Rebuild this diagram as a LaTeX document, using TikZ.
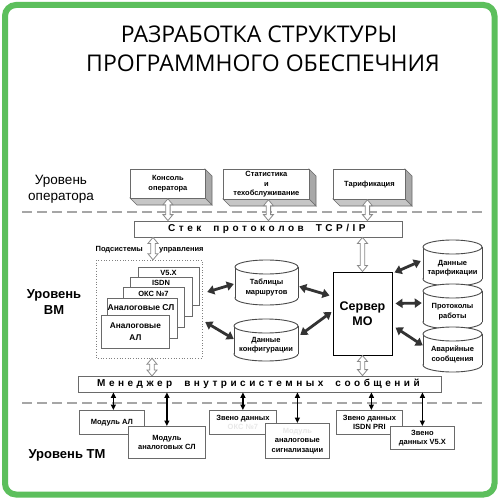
\documentclass[tikz,border=0pt]{standalone}
\usepackage{fontspec}
\setmainfont{Liberation Sans}
\newfontfamily\titlefont{Open Sans}
\usetikzlibrary{arrows.meta,calc}

\makeatletter
\newcommand\lspword[2][3pt]{\@tfor\lsp@c:=#2\do{\lsp@c\kern#1}\unkern}
\makeatother

\definecolor{framegreen}{HTML}{5CBF5C}
\definecolor{dashgray}{HTML}{A6A6A6}
\definecolor{boxgray}{HTML}{6A6A6A}
\definecolor{heavygray}{HTML}{333333}
\definecolor{sidegrayA}{HTML}{A8A8A8}
\definecolor{sidegrayB}{HTML}{C6C6C6}
\definecolor{cylgray}{HTML}{4A4A4A}
\definecolor{hollowgray}{HTML}{8A8A8A}
\definecolor{fadedgray}{HTML}{E8E8E8}

\tikzset{
  lvl/.style={font=\fontsize{13.5}{16}\selectfont, align=center},
  lvlb/.style={font=\bfseries\fontsize{13}{15.5}\selectfont, align=center},
  sm/.style={font=\bfseries\fontsize{7.5}{9.5}\selectfont, align=center},
  boxst/.style={draw=boxgray, fill=white, line width=0.8pt},
  cylst/.style={draw=cylgray, fill=white, line width=0.9pt},
  heavyarr/.style={draw=heavygray, line width=2.8pt, {Triangle[width=9pt,length=7pt]}-{Triangle[width=9pt,length=7pt]}},
  blkarr/.style={draw=black, line width=1.2pt, {Triangle[width=5pt,length=5.5pt]}-{Triangle[width=5pt,length=5.5pt]}},
  hollowst/.style={draw=hollowgray, fill=white, line width=0.8pt},
  dashst/.style={draw=dashgray, line width=1.8pt, dash pattern=on 10pt off 5pt},
  spaced/.style={font=\bfseries\fontsize{10}{12}\selectfont, anchor=west},
}

% 3D box: name, x, y, w, h, text
\newcommand\threebox[6]{%
  \filldraw[fill=sidegrayA, draw=boxgray, line width=0.6pt] (#2+#4,#3) -- ++(7,7) -- ++(0,#5) -- ++(-7,-7) -- cycle;
  \filldraw[fill=sidegrayB, draw=boxgray, line width=0.6pt] (#2,#3+#5) -- ++(#4,0) -- ++(7,7) -- ++(-#4,0) -- cycle;
  \node[boxst, sm, anchor=north west, minimum width=#4pt, minimum height=#5pt] (#1) at (#2,#3) {#6};
}
% plain box: name, x, y, w, h, text
\newcommand\plainbox[6]{%
  \node[boxst, sm, anchor=north west, minimum width=#4pt, minimum height=#5pt] (#1) at (#2,#3) {#6};
}
% cylinder: name, left, top, right, bottom, text
\newcommand\cyl[6]{%
  \filldraw[cylst] ({(#2+#4)/2},{#5-7}) ellipse [x radius={(#4-#2)/2}, y radius=7];
  \fill[white] (#2,#3+7) rectangle (#4,#5-7);
  \draw[cylst] (#2,#3+7) -- (#2,#5-7) (#4,#3+7) -- (#4,#5-7);
  \filldraw[cylst] ({(#2+#4)/2},{#3+7}) ellipse [x radius={(#4-#2)/2}, y radius=7];
  \node[minimum width={(#4-#2)*1pt}, minimum height={(#5-#3)*1pt}] (#1) at ({(#2+#4)/2},{(#3+#5)/2}) {};
  \node[sm] (#1t) at ({(#2+#4)/2},{(#3+#5)/2+5}) {#6};
}
% hollow double arrow: top point, bottom point (vertical)
\newcommand\hollowarr[2]{%
  \draw[hollowst] let \p1=#1, \p2=#2 in
    (\x1,\y1) -- (\x1+5pt,\y1-6pt) -- (\x1+2.2pt,\y1-6pt) -- (\x1+2.2pt,\y2+6pt)
    -- (\x1+5pt,\y2+6pt) -- (\x1,\y2) -- (\x1-5pt,\y2+6pt) -- (\x1-2.2pt,\y2+6pt)
    -- (\x1-2.2pt,\y1-6pt) -- (\x1-5pt,\y1-6pt) -- cycle;
}

\begin{document}
\begin{tikzpicture}[x=1pt,y=-1pt, every node/.style={inner sep=0pt}]
\useasboundingbox (0,0) rectangle (500,500);
\fill[white] (0,0) rectangle (500,500);
\draw[framegreen, line width=6pt, rounded corners=11pt] (5,5) rectangle (494.5,494.5);

% title
\node[font=\titlefont\fontsize{23}{27}\selectfont, anchor=base] (title1) at (259,43) {РАЗРАБОТКА СТРУКТУРЫ};
\node[font=\titlefont\fontsize{23}{27}\selectfont, anchor=base] (title2) at (263,72) {ПРОГРАММНОГО ОБЕСПЕЧНИЯ};

% level labels
\node[lvl] (lvlop) at (61,189) {Уровень\\оператора};
\node[lvlb] (lvlvm) at (54,302) {Уровень\\ВМ};
\node[lvlb] (lvltm) at (67,455) {Уровень ТМ};

% dashed separators
\draw[dashst] (22,212) -- (482,212);
\draw[dashst] (22,403) -- (482,403);

% operator level boxes
\threebox{kons}{130}{169}{75}{29}{Консоль\\[1pt]оператора}
\threebox{stat}{223}{169}{86}{30}{Статистика\\и\\техобслуживание}
\threebox{tarif}{333}{169}{72}{30}{Тарификация}

% stack
\node[boxst, minimum width=268pt, minimum height=16pt] (stack) at (268,229) {};
\node[spaced] (stackt) at (168,229) {\lspword[3.5pt]{Стек}\hspace{12pt}\lspword[3.5pt]{протоколов}\hspace{12pt}\lspword[3.5pt]{TCP/IP}};

\hollowarr{(kons.south)}{(kons.south |- stack.north)}
\hollowarr{($(stat.south)+(2,0)$)}{($(stat.south |- stack.north)+(2,0)$)}
\hollowarr{($(tarif.south)+(-2,0)$)}{($(tarif.south |- stack.north)+(-2,0)$)}

% subsystems
\draw[gray, dotted, line width=0.7pt, fill=white] (96,260) rectangle (202,358);
\node[minimum width=106pt, minimum height=98pt] (dotbox) at (149,309) {};
\node[sm, anchor=east] (podsys) at (143,250) {Подсистемы};
\node[sm, anchor=west] (uprav) at (159,250) {управления};

\node[boxst, anchor=north west, minimum width=61pt, minimum height=38pt] (c5) at (138,267) {};
\node[sm] (c5t) at (168.5,272.5) {V5.X};
\node[boxst, anchor=north west, minimum width=62pt, minimum height=39pt] (c4) at (130,277) {};
\node[sm] (c4t) at (161,283) {ISDN};
\node[boxst, anchor=north west, minimum width=61pt, minimum height=40pt] (c3) at (123,287) {};
\node[sm] (c3t) at (153.5,293.5) {ОКС №7};
\node[boxst, anchor=north west, minimum width=70pt, minimum height=40pt] (c2) at (107,298) {};
\node[sm, font=\bfseries\fontsize{8.5}{10}\selectfont] (c2t) at (141,307.5) {Аналоговые СЛ};
\node[boxst, anchor=north west, minimum width=68pt, minimum height=33pt, sm, font=\bfseries\fontsize{8.3}{12.5}\selectfont] (c1) at (101,315) {Аналоговые\\АЛ};

\hollowarr{(stack.south -| 153,0)}{(dotbox.north -| 153,0)}
\hollowarr{(dotbox.south -| 152,0)}{(152,376)}

% databases
\cyl{tabl}{235}{260}{298}{305}{Таблицы\\маршрутов}
\cyl{konf}{234}{319}{298}{361}{Данные\\конфигурации}
\cyl{dtar}{423}{240}{482}{286}{Данные\\тарификации}
\cyl{prot}{423}{284}{482}{329}{Протоколы\\работы}
\cyl{avar}{423}{327}{482}{372}{Аварийные\\сообщения}

% server
\node[draw=black, fill=white, line width=1pt, minimum width=59pt, minimum height=83pt, align=center, font=\bfseries\fontsize{12.5}{15}\selectfont] (srv) at (362.5,313.5) {Сервер\\МО};

% manager
\node[boxst, minimum width=363pt, minimum height=16pt] (mgr) at (259.5,384) {};
\node[spaced] (mgrt) at (97,384) {\lspword[3.5pt]{Менеджер}\hspace{12pt}\lspword[3.5pt]{внутрисистемных}\hspace{12pt}\lspword[3.5pt]{сообщений}};

\hollowarr{(stack.south -| srv.north)}{(srv.north)}
\hollowarr{(srv.south)}{(srv.south |- mgr.north)}

% heavy arrows
\draw[heavyarr] ($(dotbox.east)+(5,-17)$) -- ($(tabl.west)+(-1,1.5)$);
\draw[heavyarr] ($(dotbox.east)+(3,13)$) -- ($(konf.west)+(0,-1)$);
\draw[heavyarr] ($(tabl.east)+(1,4)$) -- ($(srv.west)+(-3,-18)$);
\draw[heavyarr] ($(konf.east)+(2,-5)$) -- ($(srv.west)+(-1,-1.5)$);
\draw[heavyarr] ($(srv.north east)+(2,1)$) -- ($(dtar.west)+(-2,-2)$);
\draw[heavyarr] ($(srv.east)+(3,-10)$) -- ($(prot.west)+(-1,-3.5)$);
\draw[heavyarr] ($(srv.east)+(3,14)$) -- ($(avar.west)+(0,-4)$);

% TM level boxes
\plainbox{mAL}{79}{410}{65}{24}{Модуль АЛ}
\plainbox{mSL}{128}{426}{77}{32}{Модуль\\аналоговых СЛ}
\plainbox{zvOKS}{209}{410}{67}{24}{Звено данных\\\textcolor{fadedgray}{ОКС №7}}
\plainbox{mSig}{265}{423}{64}{35}{\textcolor{fadedgray}{Модуль}\\аналоговые\\сигнализации}
\plainbox{zvISDN}{336}{410}{66}{24}{Звено данных\\ISDN PRI}
\plainbox{zvV5}{390}{426}{64}{23}{Звено\\данных V5.X}

% black arrows
\draw[blkarr] ($(mAL.north |- mgr.south)+(1.5,0)$) -- ($(mAL.north)+(1.5,0)$);
\draw[blkarr] (mSL.north |- mgr.south) -- (mSL.north);
\draw[blkarr] (zvOKS.north |- mgr.south) -- (zvOKS.north);
\draw[blkarr] (mSig.north |- mgr.south) -- (mSig.north);
\draw[blkarr] ($(zvISDN.north |- mgr.south)+(2,0)$) -- ($(zvISDN.north)+(2,0)$);
\draw[blkarr] (zvV5.north |- mgr.south) -- (zvV5.north);
\end{tikzpicture}
\end{document}
